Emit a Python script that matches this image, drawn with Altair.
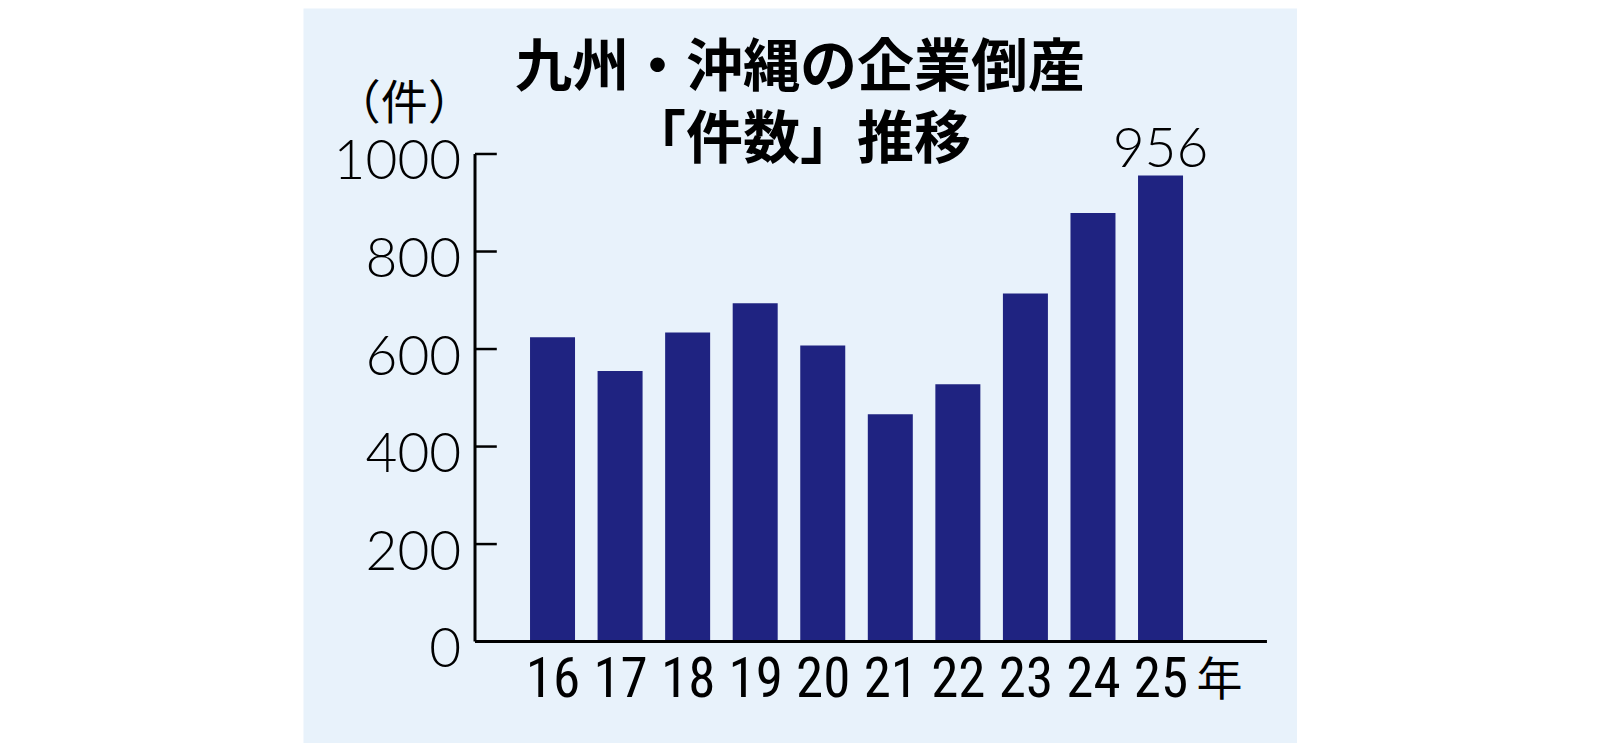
import altair as alt
import pandas as pd

# ---- data ----
years = [16, 17, 18, 19, 20, 21, 22, 23, 24, 25]
counts = [624, 555, 634, 694, 607, 466, 528, 714, 879, 956]
y_ticks = [0, 200, 400, 600, 800, 1000]
title_lines = ["九州・沖縄の企業倒産", "「件数」推移"]
unit_label = "（件）"
year_unit = "年"
label_year = 25

df = pd.DataFrame({"year": years, "count": counts})

# ---- scale calibration (panel = view) ----
X_DOMAIN = [12.3804, 26.9461]
Y_DOMAIN = [-207.96, 1299.4]
AXIS_X = 14.8526
AXIS_END = 26.5753
TICK_END = 15.175

xs = alt.Scale(domain=X_DOMAIN, nice=False, zero=False)
ys = alt.Scale(domain=Y_DOMAIN, nice=False, zero=False)

NUM_FONT = "Lato, 'Liberation Sans', sans-serif"
NARROW_FONT = "'Liberation Sans Narrow', 'Roboto Condensed', 'Liberation Sans', sans-serif"
CJK = "'Noto Sans CJK JP', sans-serif"

x_axis = alt.Axis(
    values=years, format="d", orient="bottom", offset=-101.4,
    domain=False, ticks=False, tickSize=0, grid=False,
    labelFont=NARROW_FONT, labelFontSize=55, labelPadding=12,
    labelColor="black", labelFlush=False, labelOverlap=False,
    title=year_unit, titleX=916, titleY=39, titleAlign="center",
    titleBaseline="middle", titleFont=CJK, titleFontSize=46,
    titleFontWeight="normal", titleColor="black")

y_axis = alt.Axis(
    values=y_ticks, format="d", orient="left", offset=-168.7,
    domain=False, ticks=False, tickSize=0, grid=False,
    labelFont=NUM_FONT, labelFontSize=55, labelFontWeight=300,
    labelPadding=11, labelOffset=8, labelColor="black",
    title=unit_label, titleAngle=0, titleX=-68, titleY=96,
    titleAlign="center", titleBaseline="middle", titleFont=CJK,
    titleFontSize=47, titleFontWeight="normal", titleColor="black")

bars = alt.Chart(df).mark_bar(size=45, color="#1f2381").encode(
    x=alt.X("year:Q", scale=xs, axis=x_axis),
    y=alt.Y("count:Q", scale=ys, axis=y_axis),
)

value_label = alt.Chart(df).transform_filter(
    alt.datum.year == label_year
).mark_text(baseline="alphabetic", dy=-8.5, font=NUM_FONT, fontSize=55,
            fontWeight=300, color="black").encode(
    x=alt.X("year:Q", scale=xs, axis=x_axis),
    y=alt.Y("count:Q", scale=ys, axis=y_axis),
    text=alt.Text("count:Q", format="d"),
)

yline_df = pd.DataFrame({"year": [AXIS_X], "count": [min(y_ticks)], "count2": [max(y_ticks)]})
yline = alt.Chart(yline_df).mark_rule(strokeWidth=3, color="black").encode(
    x=alt.X("year:Q", scale=xs, axis=x_axis),
    y=alt.Y("count:Q", scale=ys, axis=y_axis),
    y2="count2:Q",
)

ticks_df = pd.DataFrame({"count": y_ticks, "year": AXIS_X, "year2": TICK_END})
yticks = alt.Chart(ticks_df).mark_rule(strokeWidth=2.5, color="black").encode(
    x=alt.X("year:Q", scale=xs, axis=x_axis),
    x2="year2:Q",
    y=alt.Y("count:Q", scale=ys, axis=y_axis),
)

xline_df = pd.DataFrame({"year": [AXIS_X], "year2": [AXIS_END], "count": [0]})
xline = alt.Chart(xline_df).mark_rule(strokeWidth=3, color="black").encode(
    x=alt.X("year:Q", scale=xs, axis=x_axis),
    x2="year2:Q",
    y=alt.Y("count:Q", scale=ys, axis=y_axis),
)

chart = alt.layer(bars, value_label, yticks, yline, xline).properties(
    width=994,
    height=735,
    padding={"left": 295, "top": 0, "right": 0, "bottom": 0},
    autosize=alt.AutoSizeParams(type="none"),
    title=alt.TitleParams(
        text=title_lines, anchor="middle", frame="group",
        offset=0, dy=162, font=CJK, fontSize=57, fontWeight="bold",
        lineHeight=72, color="black"),
).configure(
    background="white"
).configure_view(
    fill="#e8f2fb", stroke="transparent"
)

chart.save("out.html", embed_options={"renderer": "svg", "actions": False})
